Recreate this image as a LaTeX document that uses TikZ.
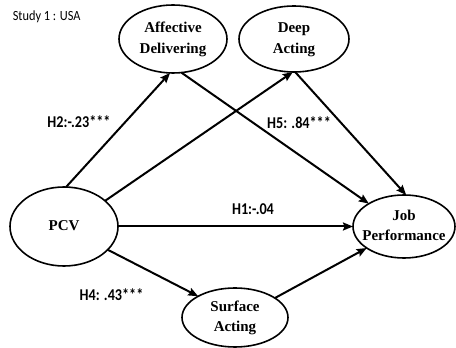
\documentclass[tikz,border=0pt]{standalone}
\usepackage{fontspec}
\setmainfont{Liberation Serif}
\newfontfamily\labfont{Carlito}
\usetikzlibrary{arrows.meta,shapes.geometric}
\newcommand\ctext[1]{\makebox[0pt]{\begin{tabular}{@{}c@{}}#1\end{tabular}}}
\newcommand\squeeze[2]{\scalebox{#1}[1]{#2}}
\tikzset{
  ell/.style={ellipse, draw, line width=1.6pt, inner sep=0pt, outer sep=0pt,
    font=\fontsize{15}{20.5}\selectfont\bfseries},
  conn/.style={line width=2pt, -{Stealth[length=10pt,width=8pt,inset=1.5pt]}},
  hlab/.style={font=\labfont\fontsize{16.5}{18}\selectfont\bfseries, inner sep=0pt},
}
\begin{document}
\begin{tikzpicture}[x=1pt,y=1pt]
\useasboundingbox (0,0) rectangle (456,348);
\node[ell, minimum width=108pt, minimum height=68pt] (AD) at (173,309) {\ctext{Affective\\Delivering}};
\node[ell, minimum width=110pt, minimum height=66pt] (DA) at (294,309) {\ctext{Deep\\Acting}};
\node[ell, minimum width=108pt, minimum height=79pt] (PCV) at (64,121.5) {\ctext{PCV}};
\node[ell, minimum width=102pt, minimum height=63pt] (JP) at (404,121.5) {\ctext{Job\\Performance}};
\node[ell, minimum width=106pt, minimum height=59pt] (SA) at (235,30.5) {\ctext{Surface\\Acting}};

\draw[conn] (PCV.87) -- (AD.-95);
\draw[conn] (PCV.32) -- (DA.-92);
\draw[conn] (AD.-76) -- (JP.147);
\draw[conn] (DA.-88) -- (JP.86);
\draw[conn] (PCV.east) -- (JP.west);
\draw[conn] (PCV.-28) -- (SA.150);
\draw[conn] (SA.26) -- (JP.-150);

\node[font=\labfont\fontsize{14}{15}\selectfont, inner sep=0pt] (study) at (46.7,331.3) {\squeeze{0.88}{Study 1 : USA}};
\node[hlab] (h2) at (79,226) {\squeeze{0.86}{H2:-.23***}};
\node[hlab] (h5) at (299,225) {\squeeze{0.86}{H5: .84***}};
\node[hlab] (h1) at (253,139) {\squeeze{0.86}{H1:-.04}};
\node[hlab] (h4) at (111.5,53) {\squeeze{0.86}{H4: .43***}};
\end{tikzpicture}
\end{document}
